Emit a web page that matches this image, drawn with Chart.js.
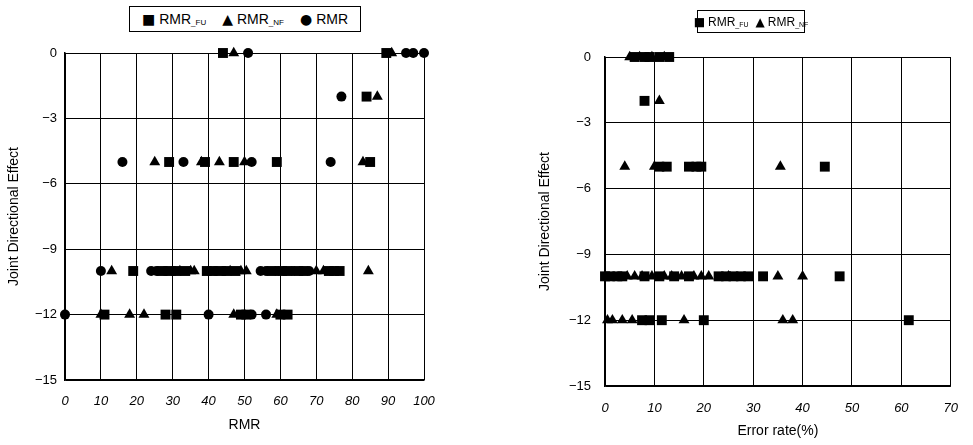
<!DOCTYPE html>
<html><head><meta charset="utf-8">
<script src="https://cdn.jsdelivr.net/npm/chart.js@4"></script>
<style>
html,body{margin:0;padding:0;background:#fff;width:973px;height:445px;overflow:hidden;font-family:"Liberation Sans",Arial,sans-serif;}
.wrap{position:absolute;top:0;height:445px;}
#w1{left:0;width:486px}
#w2{left:486px;width:487px}
.legend{position:absolute;border:1px solid #000;background:#fff;font-size:14px;color:#000;display:flex;align-items:center;justify-content:center;white-space:nowrap;box-sizing:border-box;padding:0 4px;gap:16px;}
.legend span.m{font-size:14px;margin-right:4px;font-family:"DejaVu Sans",sans-serif}
.legend small{font-size:8px;vertical-align:-1px}
#lg2{font-size:12px;gap:7px;padding:0 2px;}
#lg2 span.m{font-size:12px;margin-right:3px}
#lg2 small{font-size:7px}
</style></head>
<body>
<div class="wrap" id="w1"><canvas id="c1" width="486" height="445"></canvas></div>
<div class="wrap" id="w2"><canvas id="c2" width="487" height="445"></canvas></div>
<div class="legend" style="left:129px;top:6px;width:232px;height:26px;">
  <div><span class="m">■</span>RMR<small>_FU</small></div>
  <div><span class="m">▲</span>RMR<small>_NF</small></div>
  <div><span class="m">●</span>RMR</div>
</div>
<div class="legend" id="lg2" style="left:697px;top:10px;width:108px;height:23px;">
  <div><span class="m">■</span>RMR<small>_FU</small></div>
  <div><span class="m">▲</span>RMR<small>_NF</small></div>
</div>
<script>
// ---- Left panel: x = RMR ----
const leftFuX = [44, 89.5, 84, 29, 39, 47, 59, 85, 19, 27, 29.5, 31, 33.5, 39.5, 41, 43.5, 45, 47.5, 57.5, 60.5, 62, 65, 66.5, 73.5, 75, 76.5, 11, 28, 31, 49, 50.5, 60, 62];
const leftFuY = [0, 0, -2, -5, -5, -5, -5, -5, -10, -10, -10, -10, -10, -10, -10, -10, -10, -10, -10, -10, -10, -10, -10, -10, -10, -10, -12, -12, -12, -12, -12, -12, -12];
const leftNfX = [47, 91, 87, 25, 38, 43, 50, 83, 13, 32, 35, 36, 46, 49, 50.5, 70, 72, 84.5, 10, 18, 22, 47, 59];
const leftNfY = [0, 0, -2, -5, -5, -5, -5, -5, -10, -10, -10, -10, -10, -10, -10, -10, -10, -10, -12, -12, -12, -12, -12];
const leftRmrX = [51, 95, 97, 100, 77, 16, 33, 52, 74, 10, 24, 25.5, 28, 42, 54.5, 56, 59, 63.5, 68, 0, 40, 52, 56];
const leftRmrY = [0, 0, 0, 0, -2, -5, -5, -5, -5, -10, -10, -10, -10, -10, -10, -10, -10, -10, -10, -12, -12, -12, -12];

// ---- Right panel: x = Error rate(%) ----
const rightFuX = [6, 8, 9, 11, 13, 8, 11, 12.5, 17, 18.5, 19.5, 44.5, 0, 1, 2.5, 3.5, 8, 11, 14, 17, 23, 24.5, 26, 27.5, 29, 32, 47.5, 7.5, 9, 11.5, 20, 61.5];
const rightFuY = [0, 0, 0, 0, 0, -2, -5, -5, -5, -5, -5, -5, -10, -10, -10, -10, -10, -10, -10, -10, -10, -10, -10, -10, -10, -10, -10, -12, -12, -12, -12, -12];
const rightNfX = [5, 7, 9.5, 12, 11, 4, 10, 35.5, 4.5, 6, 7.5, 9.5, 12, 13.5, 15.5, 18, 19.5, 21, 25, 35, 40, 0.5, 1.5, 3.5, 5.5, 16, 36, 38];
const rightNfY = [0, 0, 0, 0, -2, -5, -5, -5, -10, -10, -10, -10, -10, -10, -10, -10, -10, -10, -10, -10, -10, -12, -12, -12, -12, -12, -12, -12];

const yTickValues = [0, -3, -6, -9, -12, -15];
const leftXTicks = [0, 10, 20, 30, 40, 50, 60, 70, 80, 90, 100];
const rightXTicks = [0, 10, 20, 30, 40, 50, 60, 70];

const INK = '#000';
function pts(xs, ys) { return xs.map((x, i) => ({x: x, y: ys[i]})); }
function ds(label, xs, ys, style, r) {
  return {label: label, data: pts(xs, ys), pointStyle: style, pointRadius: r, pointHoverRadius: r,
    backgroundColor: INK, borderColor: INK, borderWidth: 0, clip: false, showLine: false};
}

function makeChart(id, datasets, xTicks, cfg) {
  const xMax = xTicks[xTicks.length - 1];
  return new Chart(document.getElementById(id), {
    type: 'scatter',
    data: {datasets: datasets},
    options: {
      responsive: false, animation: false, devicePixelRatio: 1,
      layout: {padding: cfg.padding},
      plugins: {legend: {display: false}, tooltip: {enabled: false}},
      scales: {
        x: {
          type: 'linear', min: 0, max: xMax,
          afterBuildTicks: s => { s.ticks = xTicks.map(v => ({value: v})); },
          afterFit: s => { s.height = cfg.xH; },
          grid: {color: INK, lineWidth: 1, drawTicks: false},
          border: {color: INK, width: 1.5},
          ticks: {color: INK, padding: cfg.xTickPad, maxRotation: 0, autoSkip: false,
            font: {family: '"Liberation Sans", Arial, sans-serif', size: 13, style: 'italic'}},
          title: {display: true, text: cfg.xTitle, color: INK, padding: {top: 0, bottom: cfg.xTitlePad},
            font: {family: '"Liberation Sans", Arial, sans-serif', size: 14}}
        },
        y: {
          type: 'linear', min: -15, max: 0,
          afterBuildTicks: s => { s.ticks = yTickValues.map(v => ({value: v})); },
          afterFit: s => { s.width = cfg.yW; },
          grid: {color: INK, lineWidth: 1, drawTicks: false},
          border: {color: INK, width: 1.5},
          ticks: {color: INK, padding: cfg.yTickPad, autoSkip: false,
            callback: v => String(v).replace('-', '\u2212'),
            font: {family: '"Liberation Sans", Arial, sans-serif', size: 13}},
          title: {display: true, text: 'Joint Directional Effect', color: INK, padding: {top: cfg.yTitlePad, bottom: 0},
            font: {family: '"Liberation Sans", Arial, sans-serif', size: 14}}
        }
      }
    }
  });
}

makeChart('c1', [
  ds('RMR_FU', leftFuX, leftFuY, 'rect', 7),
  ds('RMR_NF', leftNfX, leftNfY, 'triangle', 6.3),
  ds('RMR', leftRmrX, leftRmrY, 'circle', 5)
], leftXTicks, {padding: {top: 53, right: 62, left: 0, bottom: 0}, xH: 65, yW: 65,
  xTickPad: 14, xTitlePad: 11.5, yTickPad: 8, yTitlePad: 5.5, xTitle: 'RMR'});

makeChart('c2', [
  ds('RMR_FU', rightFuX, rightFuY, 'rect', 7),
  ds('RMR_NF', rightNfX, rightNfY, 'triangle', 6.3)
], rightXTicks, {padding: {top: 57, right: 9, left: 45, bottom: 0}, xH: 59, yW: 74,
  xTickPad: 15, xTitlePad: 5.5, yTickPad: 14, yTitlePad: 5.5, xTitle: 'Error rate(%)'});
</script>
</body></html>
